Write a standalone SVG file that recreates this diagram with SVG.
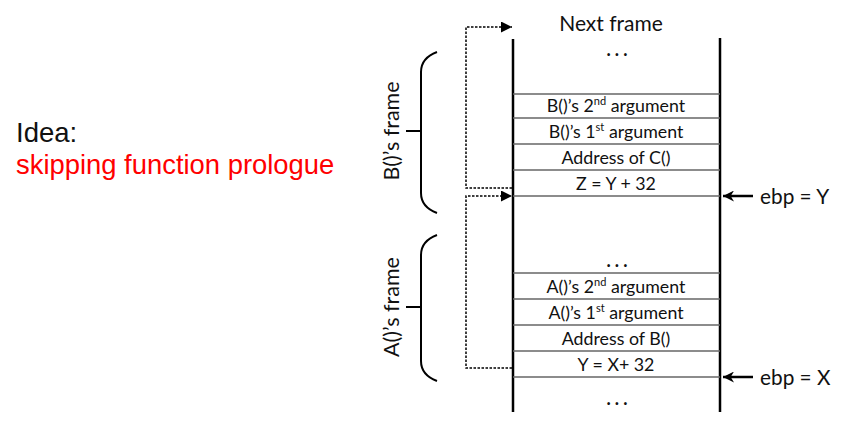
<svg xmlns="http://www.w3.org/2000/svg" width="842" height="422" viewBox="0 0 842 422">
<style>
.cell{font-family:Lato,"Open Sans",sans-serif;font-size:17.8px;fill:#111;text-anchor:middle}
.sup{font-size:11px}
.dots{font-family:Lato,"Open Sans",sans-serif;font-size:18px;font-weight:bold;fill:#111;text-anchor:middle;letter-spacing:4px}
.div{stroke:#666;stroke-width:1.5}
.wall{stroke:#000;stroke-width:2.5}
.dot{fill:none;stroke:#000;stroke-width:1.5;stroke-dasharray:2.5 1.5}
.brace{fill:none;stroke:#000;stroke-width:2}
.lbl{font-family:Lato,"Open Sans",sans-serif;font-size:21.5px;fill:#111;text-anchor:middle}
.ebp{font-family:Lato,"Open Sans",sans-serif;font-size:20.8px;fill:#111}
</style>
<defs>
<marker id="ah" viewBox="0 0 10 10" refX="10" refY="5" markerWidth="11" markerHeight="11" markerUnits="userSpaceOnUse" orient="auto"><path d="M0,0 L10,5 L0,10 z" fill="#000"/></marker>
<marker id="ah2" viewBox="0 0 10 10" refX="10" refY="5" markerWidth="11" markerHeight="11" markerUnits="userSpaceOnUse" orient="auto"><path d="M0,0 L10,5 L0,10 L3,5 z" fill="#000"/></marker>
</defs>
<rect width="842" height="422" fill="#fff"/>
<g id="title">
<text x="16" y="142" font-family="Liberation Sans,Arial,sans-serif" font-size="27.5" fill="#111">Idea:</text>
<text x="16" y="174" font-family="Liberation Sans,Arial,sans-serif" font-size="27.4" fill="#f00">skipping function prologue</text>
</g>
<g id="stack">
<line class="wall" x1="513" y1="39" x2="513" y2="412"/>
<line class="wall" x1="720" y1="38" x2="720" y2="412"/>
<text class="cell" x="611" y="31" style="font-size:21px">Next frame</text>
<text class="dots" x="619" y="56">...</text>
</g>
<g id="bframe">
<line class="div" x1="513" y1="94" x2="720" y2="94"/>
<line class="div" x1="513" y1="118" x2="720" y2="118"/>
<line class="div" x1="513" y1="144" x2="720" y2="144"/>
<line class="div" x1="513" y1="170" x2="720" y2="170"/>
<line class="div" x1="513" y1="196" x2="720" y2="196"/>
<text class="cell" x="616" y="112">B()’s 2<tspan class="sup" dy="-7">nd</tspan><tspan dy="7"> argument</tspan></text>
<text class="cell" x="616" y="138">B()’s 1<tspan class="sup" dy="-7">st</tspan><tspan dy="7"> argument</tspan></text>
<text class="cell" x="616" y="164">Address of C()</text>
<text class="cell" x="616" y="190">Z = Y + 32</text>
</g>
<g id="aframe">
<text class="dots" x="619" y="267">...</text>
<line class="div" x1="513" y1="273" x2="720" y2="273"/>
<line class="div" x1="513" y1="299" x2="720" y2="299"/>
<line class="div" x1="513" y1="325" x2="720" y2="325"/>
<line class="div" x1="513" y1="351" x2="720" y2="351"/>
<line class="div" x1="513" y1="377" x2="720" y2="377"/>
<text class="cell" x="616" y="293">A()’s 2<tspan class="sup" dy="-7">nd</tspan><tspan dy="7"> argument</tspan></text>
<text class="cell" x="616" y="319">A()’s 1<tspan class="sup" dy="-7">st</tspan><tspan dy="7"> argument</tspan></text>
<text class="cell" x="616" y="345">Address of B()</text>
<text class="cell" x="616" y="371">Y = X+ 32</text>
<text class="dots" x="619" y="405">...</text>
</g>
<g id="bbrace">
<path class="brace" d="M437,52 Q421,58 421,72 L421,193 Q421,207 437,213"/>
<line class="brace" x1="406" y1="131" x2="421" y2="131"/>
<text class="lbl" transform="translate(399,131) rotate(-90)">B()’s frame</text>
</g>
<g id="abrace">
<path class="brace" d="M437,235 Q421,241 421,255 L421,361 Q421,375 437,381"/>
<line class="brace" x1="406" y1="307" x2="421" y2="307"/>
<text class="lbl" transform="translate(399,307) rotate(-90)">A()’s frame</text>
</g>
<g id="ebpY">
<text class="ebp" x="760" y="204">ebp = Y</text>
</g>
<g id="ebpX">
<text class="ebp" x="760" y="385">ebp = X</text>
</g>
<g id="connectors">
<path class="dot" d="M512,188 L466,188 L466,27 L512,27" marker-end="url(#ah)"/>
<path class="dot" d="M512,368 L466,368 L466,196 L512,196" marker-end="url(#ah)"/>
<line x1="753" y1="196" x2="723" y2="196" stroke="#000" stroke-width="2.5" marker-end="url(#ah2)"/>
<line x1="753" y1="377" x2="723" y2="377" stroke="#000" stroke-width="2.5" marker-end="url(#ah2)"/>
</g>
</svg>
